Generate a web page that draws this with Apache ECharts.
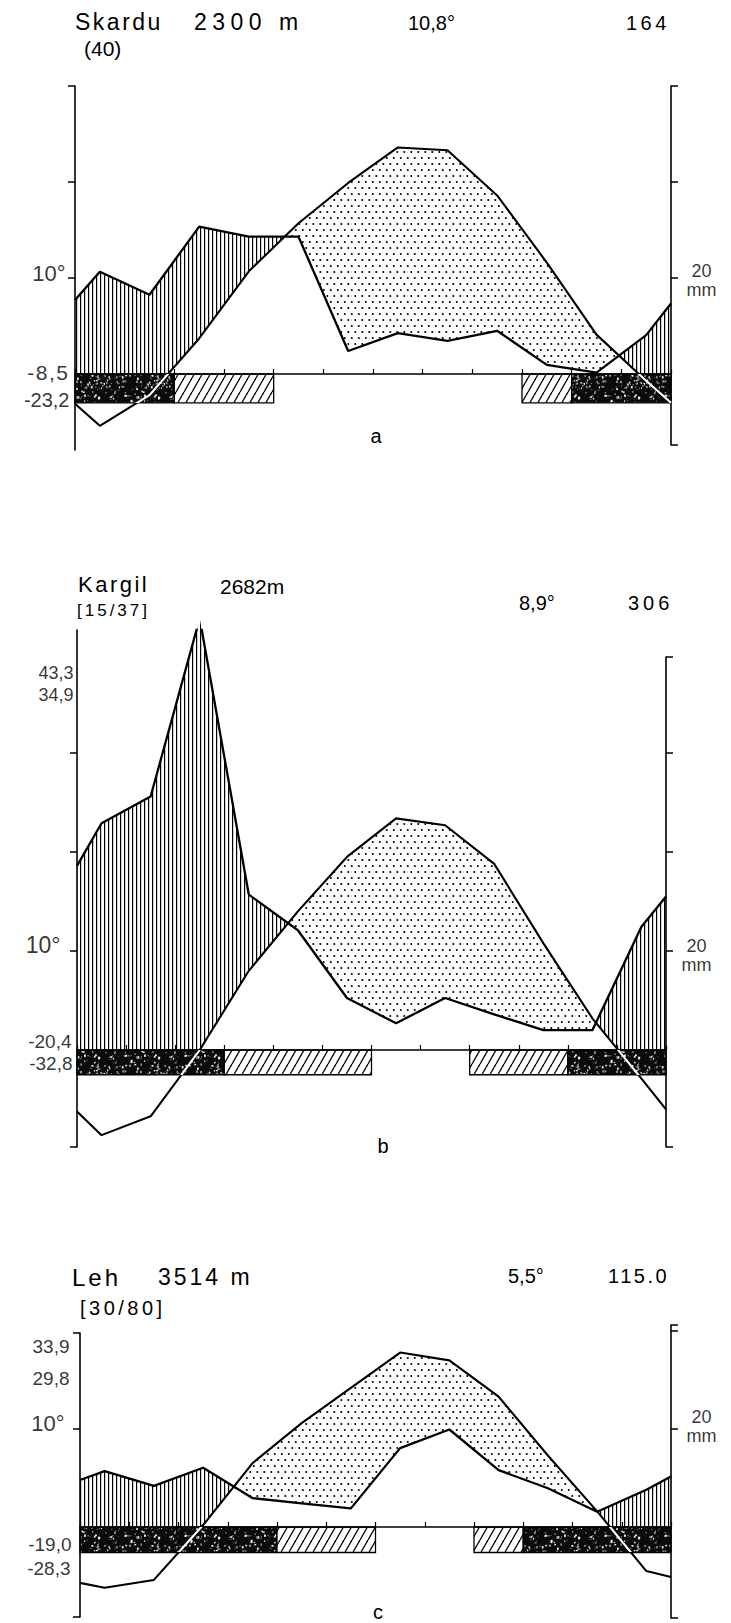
<!DOCTYPE html>
<html><head><meta charset="utf-8">
<script src="https://cdn.jsdelivr.net/npm/echarts@6/dist/echarts.min.js"></script>
<style>html,body{margin:0;padding:0;background:#fff}#c{width:731px;height:1623px}</style>
</head><body><div id="c"></div>
<script>
// ================= DATA =================
// month centres are at x = 0.5 ... 11.5, the diagram edges at x = 0 and x = 12
const months = ['J','F','M','A','M','J','J','A','S','O','N','D'];

// Skardu
const skarduTitle = ['Skardu', '2300 m', '(40)', '10,8°', '164'];
const skarduTemp = [-5.4, -2.2, 3.7, 10.7, 15.7, 19.9, 23.6, 23.3, 18.6, 11.6, 4.1, -0.7];
const skarduTempEdges = [-3.1, -3.0];
const skarduPrec = [21.3, 16.5, 30.7, 28.6, 28.6, 4.8, 8.5, 6.9, 9.0, 1.9, 0.3, 8.1];
const skarduPrecEdges = [15.4, 14.7];
const skarduFrost = ['B','B','H','H','','','','','','H','B','B'];
const skarduLeftLabels = ['10°', '-8,5', '-23,2'];

// Kargil
const kargilTitle = ['Kargil', '2682m', '[15/37]', '8,9°', '306'];
const kargilTemp = [-8.6, -6.7, 0.0, 8.0, 14.0, 19.5, 23.4, 22.7, 18.8, 10.8, 3.2, -2.9];
const kargilTempEdges = [-6.2, -6.0];
const kargilPrec = [45.8, 51.2, 87.2, 31.4, 24.2, 10.5, 5.4, 10.5, 7.2, 4.0, 4.0, 24.9];
const kargilPrecEdges = [37.2, 31.0];
const kargilFrost = ['B','B','B','H','H','H','','','H','H','B','B'];
const kargilLeftLabels = ['43,3', '34,9', '10°', '-20,4', '-32,8'];

// Leh
const lehTitle = ['Leh', '3514 m', '[30/80]', '5,5°', '115.0'];
const lehTemp = [-6.2, -5.4, 0.2, 6.5, 10.6, 14.2, 17.8, 17.0, 13.3, 7.3, 1.6, -4.5];
const lehTempEdges = [-5.7, -5.1];
const lehPrec = [11.4, 8.4, 12.1, 5.9, 4.8, 3.8, 16.1, 19.9, 11.6, 7.9, 3.1, 7.6];
const lehPrecEdges = [9.6, 10.3];
const lehFrost = ['B','B','B','B','H','H','','','H','B','B','B'];
const lehLeftLabels = ['33,9', '29,8', '10°', '-19,0', '-28,3'];

const tempTicks = [10, 20, 30];
const precTicks = [20, 40, 60, 80];
const precUnitLabel = '20\nmm';
const panelLetters = ['a', 'b', 'c'];
const PREC_PER_DEG = 2; // 10 °C = 20 mm

// ================= LAYOUT / STYLE =================
const FONT = '"Liberation Sans", Arial, sans-serif';
const layout = {
  a: {L:75, R:671, topL:86, botL:450, topR:86, botR:445, zeroY:374, pxPerDeg:9.6, depth:3.0,
      leftTop:true, leftBot:false, rightTop:true, rightBot:true,
      leftLabelY:[10.5, 0.2, -2.7], leftLabelFs:[22, 21, 20], leftLabelDist:[9, 5, 5],
      rightLabelAt:19.5,
      title:[[75,22,23],[194,22,23],[84,48,21],[408,23,20],[626,23,20]], letter:[376,436]},
  b: {L:77, R:666, topL:630, botL:1147, topR:657, botR:1147, zeroY:1050, pxPerDeg:9.9, depth:2.5,
      leftTop:false, leftBot:true, rightTop:true, rightBot:true,
      leftLabelY:[38.1, 35.9, 10.6, 0.9, -1.4], leftLabelFs:[18, 18, 23, 19, 19], leftLabelDist:[3, 3, 16, 5, 4],
      rightLabelAt:19,
      title:[[78,584,22],[220,586,21],[77,610,17],[519,603,20],[628,603,20]], letter:[383,1146]},
  c: {L:80, R:671, topL:1333, botL:1617, topR:1325, botR:1618, zeroY:1527, pxPerDeg:9.8, depth:2.6,
      leftTop:true, leftBot:true, rightTop:true, rightBot:true,
      leftLabelY:[18.4, 15.2, 10.6, -1.8, -4.2], leftLabelFs:[19, 19, 22, 19, 19], leftLabelDist:[10, 10, 15, 8, 9],
      rightLabelAt:20.5,
      title:[[72,1277,24],[158,1277,23],[80,1308,20],[508,1276,20],[608,1276,20]], letter:[378,1612]}
};
// extra spacing between letters of some texts (px)
const letterSpacing = {'Skardu':2.5, '2300 m':5.5, '164':3.5, 'Kargil':2.5, '[15/37]':3, '306':4,
  'Leh':3, '3514 m':3, '[30/80]':3.5, '115.0':2.5, '-8,5':1.5};

// ================= PATTERNS =================
function makePattern(w, h, draw) {
  const c = document.createElement('canvas'); c.width = w; c.height = h;
  const g = c.getContext('2d'); draw(g, w, h);
  return {image: c.toDataURL(), repeat: 'repeat', imageWidth: w, imageHeight: h};
}
const vHatch = makePattern(4, 4, (g) => { g.fillStyle = '#000'; g.fillRect(0, 0, 1.2, 4); });
const dots = makePattern(14, 12, (g) => {
  g.fillStyle = '#000';
  [[1.8, 2], [8.8, 2], [5.3, 8], [12.3, 8], [-1.7, 8]].forEach(([x, y]) => { g.beginPath(); g.arc(x, y, 1.05, 0, Math.PI * 2); g.fill(); });
});
const diag = makePattern(8, 14, (g, w, h) => {
  g.fillStyle = '#fff'; g.fillRect(0, 0, w, h);
  g.strokeStyle = '#000'; g.lineWidth = 1.3;
  [-w, 0, w].forEach(o => { g.beginPath(); g.moveTo(o, h); g.lineTo(o + w, 0); g.stroke(); });
});
function hash(n) { const s = Math.sin(n * 12.9898 + 78.233) * 43758.5453; return s - Math.floor(s); }
const speckle = makePattern(60, 30, (g, w, h) => {
  g.fillStyle = '#0b0b0b'; g.fillRect(0, 0, w, h);
  for (let i = 0; i < 120; i++) {
    const x = hash(i) * w, y = hash(i + 500) * h, s = 0.6 + hash(i + 900) * 1.5;
    g.fillStyle = hash(i + 1300) > 0.5 ? 'rgba(255,255,255,0.9)' : 'rgba(160,160,160,0.9)';
    g.fillRect(x, y, s, s * (0.6 + hash(i + 1700)));
  }
});

// ================= HELPERS =================
function withEdges(vals, edges) {
  const pts = [[0, edges[0]]];
  vals.forEach((v, i) => pts.push([i + 0.5, v]));
  pts.push([12, edges[1]]);
  return pts;
}
function interp(pts, x) {
  for (let i = 0; i < pts.length - 1; i++) {
    if (x <= pts[i + 1][0]) {
      const t = (x - pts[i][0]) / (pts[i + 1][0] - pts[i][0]);
      return pts[i][1] + t * (pts[i + 1][1] - pts[i][1]);
    }
  }
  return pts[pts.length - 1][1];
}
function frostRuns(frost) {
  const runs = [];
  frost.forEach((c, i) => {
    const code = c === 'B' ? 1 : (c === 'H' ? 2 : 0);
    const last = runs[runs.length - 1];
    if (last && last[2] === code && last[1] === i) last[1] = i + 1;
    else runs.push([i, i + 1, code]);
  });
  return runs.filter(r => r[2] !== 0);
}

const panels = [
  {key:'a', title:skarduTitle, temp:skarduTemp, tE:skarduTempEdges, prec:skarduPrec, pE:skarduPrecEdges, frost:skarduFrost, labels:skarduLeftLabels},
  {key:'b', title:kargilTitle, temp:kargilTemp, tE:kargilTempEdges, prec:kargilPrec, pE:kargilPrecEdges, frost:kargilFrost, labels:kargilLeftLabels},
  {key:'c', title:lehTitle, temp:lehTemp, tE:lehTempEdges, prec:lehPrec, pE:lehPrecEdges, frost:lehFrost, labels:lehLeftLabels}
];

const grid = [], xAxis = [], yAxis = [], series = [], visualMap = [], graphic = [];
const AX = {color:'#000', width:1.6};

panels.forEach((p, pi) => {
  const Ly = layout[p.key];
  const tmax = (Ly.zeroY - Ly.topL) / Ly.pxPerDeg, tmin = -(Ly.botL - Ly.zeroY) / Ly.pxPerDeg;
  const pxPerMm = Ly.pxPerDeg / PREC_PER_DEG;
  const pmax = (Ly.zeroY - Ly.topR) / pxPerMm, pmin = -(Ly.botR - Ly.zeroY) / pxPerMm;
  const gi = grid.length;
  grid.push({left:Ly.L, width:Ly.R - Ly.L, top:Ly.topL, height:Ly.botL - Ly.topL, outerBoundsMode:'none'});
  grid.push({left:Ly.L, width:Ly.R - Ly.L, top:Ly.topR, height:Ly.botR - Ly.topR, outerBoundsMode:'none'});
  const xi = xAxis.length;
  xAxis.push({gridIndex:gi, type:'value', min:0, max:12, interval:1, z:3,
    axisLine:{show:true, onZero:true, lineStyle:AX},
    axisTick:{show:true, inside:true, length:5, lineStyle:{color:'#000', width:1.2}},
    axisLabel:{show:false}, splitLine:{show:false}});
  xAxis.push({gridIndex:gi + 1, type:'value', min:0, max:12, show:false});
  const yi = yAxis.length;
  const lt = tempTicks.filter(v => v < tmax - 0.5);
  if (Ly.leftTop) lt.push(tmax);
  if (Ly.leftBot) lt.push(tmin);
  yAxis.push({gridIndex:gi, type:'value', min:tmin, max:tmax, position:'left', z:3,
    axisLine:{show:true, onZero:false, lineStyle:AX},
    axisTick:{show:true, inside:false, length:7, customValues:lt, lineStyle:{color:'#000', width:1.5}},
    axisLabel:{show:false}, splitLine:{show:false}});
  yAxis.push({gridIndex:gi, type:'value', min:PREC_PER_DEG * tmin, max:PREC_PER_DEG * tmax, show:false, splitLine:{show:false}});
  const rt = precTicks.filter(v => v < pmax - 1);
  if (Ly.rightTop) rt.push(pmax);
  if (Ly.rightBot) rt.push(pmin);
  yAxis.push({gridIndex:gi + 1, type:'value', min:pmin, max:pmax, position:'right', z:3,
    axisLine:{show:true, onZero:false, lineStyle:AX},
    axisTick:{show:true, inside:false, length:7, customValues:rt, lineStyle:{color:'#000', width:1.5}},
    axisLabel:{show:false}, splitLine:{show:false}});

  const tPts = withEdges(p.temp, p.tE);
  const pPts = withEdges(p.prec, p.pE);

  // humid (vertical hatch) and arid (dots) areas
  series.push({type:'custom', xAxisIndex:xi, yAxisIndex:yi, z:1, silent:true, clip:false,
    data:[[0, 0]],
    renderItem: (params, api) => {
      const N = 2400, humid = [], arid = [];
      let cH = null, cA = null;
      for (let k = 0; k <= N; k++) {
        const x = 12 * k / N, t = interp(tPts, x), pr = interp(pPts, x) / PREC_PER_DEG;
        const lo = Math.max(t, 0);
        if (pr > lo) { if (!cH) { cH = []; humid.push(cH); } cH.push([x, pr, lo]); } else cH = null;
        if (t > pr) { if (!cA) { cA = []; arid.push(cA); } cA.push([x, t, pr]); } else cA = null;
      }
      const poly = run => run.map(r => api.coord([r[0], r[1]])).concat(run.slice().reverse().map(r => api.coord([r[0], r[2]])));
      const ch = [];
      humid.forEach(r => { if (r.length > 1) ch.push({type:'polygon', shape:{points:poly(r)}, style:{fill:vHatch, stroke:null}}); });
      arid.forEach(r => { if (r.length > 1) ch.push({type:'polygon', shape:{points:poly(r)}, style:{fill:dots, stroke:null}}); });
      return {type:'group', children:ch};
    }});

  // frost bars (consecutive months of the same kind merged)
  series.push({type:'custom', xAxisIndex:xi, yAxisIndex:yi, z:2, silent:true, clip:false,
    data:frostRuns(p.frost),
    renderItem: (params, api) => {
      const s = api.value(0), e = api.value(1), code = api.value(2);
      const a = api.coord([s, 0]), b = api.coord([e, -Ly.depth]);
      return {type:'rect', shape:{x:a[0], y:a[1], width:b[0] - a[0], height:b[1] - a[1]},
        style:{fill: code === 1 ? speckle : diag, stroke:'#000', lineWidth:1.3}};
    }});

  // precipitation curve
  series.push({type:'line', xAxisIndex:xi, yAxisIndex:yi + 1, z:4, silent:true, data:pPts,
    showSymbol:false, lineStyle:{color:'#000', width:2.3}, animation:false});
  // temperature curve
  const tIdx = series.length;
  series.push({type:'line', xAxisIndex:xi, yAxisIndex:yi, z:4, silent:true, data:tPts,
    showSymbol:false, lineStyle:{width:2.1}, animation:false});
  visualMap.push({type:'piecewise', show:false, seriesIndex:tIdx, dimension:1,
    pieces:[{lt:-Ly.depth, color:'#000'}, {gte:-Ly.depth, lt:0, color:'#fff'}, {gte:0, color:'#000'}]});

  // left-side annotations
  series.push({type:'scatter', xAxisIndex:xi, yAxisIndex:yi, z:5, silent:true, clip:false,
    symbolSize:1, itemStyle:{color:'rgba(0,0,0,0)'},
    data:p.labels.map((t, k) => ({name:t, value:[0, Ly.leftLabelY[k]],
      label:{fontSize:Ly.leftLabelFs[k], distance:Ly.leftLabelDist[k]}})),
    label:{show:true, position:'left', formatter:'{b}', color:'#000', fontFamily:FONT}});
  // right unit label
  series.push({type:'scatter', xAxisIndex:xi, yAxisIndex:yi + 1, z:5, silent:true, clip:false,
    symbolSize:1, itemStyle:{color:'rgba(0,0,0,0)'},
    data:[{name:precUnitLabel, value:[12, Ly.rightLabelAt]}],
    label:{show:true, position:'right', distance:30, formatter:'{b}', color:'#000', fontFamily:FONT, fontSize:18, lineHeight:19, align:'center'}});

  // titles
  p.title.forEach((t, k) => {
    const [x, y, fs] = Ly.title[k];
    graphic.push({type:'text', x:x, y:y, silent:true, style:{text:t, fill:'#000', fontFamily:FONT, fontSize:fs, align:'left', verticalAlign:'middle'}});
  });
  graphic.push({type:'text', x:Ly.letter[0], y:Ly.letter[1], silent:true, style:{text:panelLetters[pi], fill:'#000', fontFamily:FONT, fontSize:20, align:'center', verticalAlign:'middle'}});
});

const chart = echarts.init(document.getElementById('c'), null, {renderer:'svg', width:731, height:1623});
function applySpacing() {
  document.querySelectorAll('#c svg text').forEach(el => {
    const sp = letterSpacing[el.textContent];
    if (sp) el.setAttribute('letter-spacing', sp);
  });
}
chart.on('finished', applySpacing);
chart.setOption({animation:false, backgroundColor:'#fff', grid, xAxis, yAxis, series, visualMap, graphic});
applySpacing();
</script>
</body></html>
